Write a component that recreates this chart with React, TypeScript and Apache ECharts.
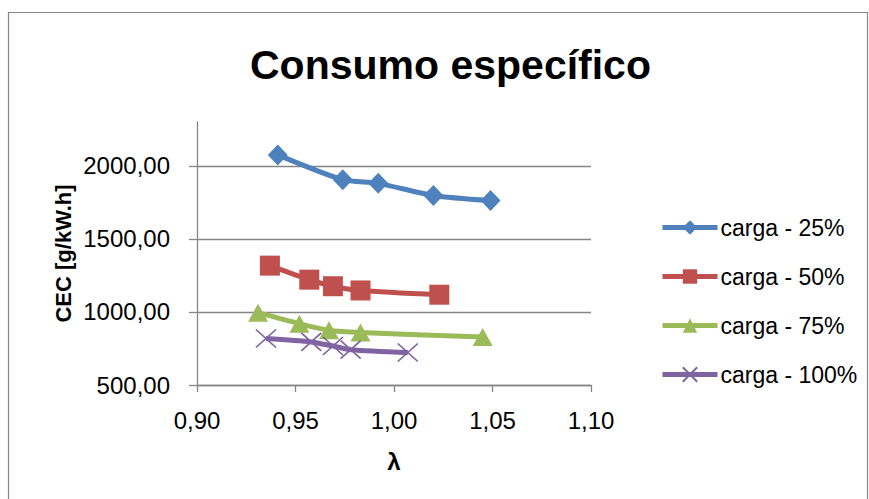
import React, { useEffect, useRef } from "react";
import * as echarts from "echarts";

const seriesNames = ["carga - 25%", "carga - 50%", "carga - 75%", "carga - 100%"];
const lambda25 = [0.941, 0.974, 0.992, 1.02, 1.049];
const cec25 = [2075, 1905, 1880, 1797, 1762];
const lambda50 = [0.937, 0.957, 0.969, 0.983, 1.023];
const cec50 = [1317, 1221, 1176, 1147, 1118];
const lambda75 = [0.931, 0.952, 0.967, 0.983, 1.045];
const cec75 = [995, 920, 875, 859, 829];
const lambda100 = [0.935, 0.958, 0.969, 0.978, 1.007];
const cec100 = [818, 795, 767, 742, 722];
const xTicks = [0.9, 0.95, 1.0, 1.05, 1.1];
const yTicks = [500, 1000, 1500, 2000];

const colors = ["#4F81BD", "#C0504D", "#9BBB59", "#8064A2"];
const symbols = ["diamond", "rect", "triangle", "path://M0,0L10,10M10,0L0,10"];
const symbolSizes = [[20, 21], [20, 20], [20, 18], [20, 18]];

const fmt = (v: number) => v.toFixed(2).replace(".", ",");

export default function App() {
  const ref = useRef<HTMLDivElement>(null);
  useEffect(() => {
    document.body.style.margin = "0";
    if (!ref.current) return;
    const chart = echarts.init(ref.current, null, { renderer: "svg" });
    const xs = [lambda25, lambda50, lambda75, lambda100];
    const ys = [cec25, cec50, cec75, cec100];
    const font = "Liberation Sans, Arial, sans-serif";
    chart.setOption({
      animation: false,
      backgroundColor: "#fff",
      graphic: [
        {
          type: "rect",
          left: 6,
          top: 10,
          shape: { width: 859, height: 500 },
          style: { fill: "none", stroke: "#868686", lineWidth: 1.2 },
          silent: true,
        },
      ],
      title: {
        text: "Consumo específico",
        left: 245,
        top: 39,
        textStyle: { fontFamily: font, fontWeight: "bold", fontSize: 41, color: "#000" },
      },
      grid: { left: 197, right: 278, top: 122, bottom: 114, containLabel: false },
      legend: {
        orient: "vertical",
        left: 655,
        top: 211,
        itemWidth: 55,
        itemHeight: 18,
        itemGap: 26,
        data: seriesNames,
        lineStyle: { width: 5 },
        textStyle: { fontFamily: font, fontSize: 23, color: "#000", padding: [0, 0, 0, -2] },
      },
      xAxis: {
        type: "value",
        min: 0.9,
        max: 1.1,
        interval: 0.05,
        name: "λ",
        nameLocation: "middle",
        nameGap: 64,
        nameMoveOverlap: false,
        nameTextStyle: { fontFamily: font, fontWeight: "bold", fontSize: 24, color: "#000" },
        axisLine: { show: true, lineStyle: { color: "#868686", width: 1.3 } },
        axisTick: { show: true, length: 7, lineStyle: { color: "#868686", width: 1.3 } },
        axisLabel: {
          fontFamily: font,
          fontSize: 24,
          color: "#000",
          margin: 23,
          customValues: xTicks,
          formatter: (v: number) => fmt(v),
        },
        splitLine: { show: false },
      },
      yAxis: {
        type: "value",
        min: 500,
        max: 2300,
        interval: 500,
        name: "CEC [g/kW.h]",
        nameLocation: "middle",
        nameGap: 123,
        nameMoveOverlap: false,
        nameRotate: 90,
        nameTextStyle: { fontFamily: font, fontWeight: "bold", fontSize: 22, color: "#000" },
        axisLine: { show: true, lineStyle: { color: "#868686", width: 1.3 } },
        axisTick: { show: true, length: 8, lineStyle: { color: "#868686", width: 1.3 }, customValues: yTicks },
        axisLabel: {
          fontFamily: font,
          fontSize: 24,
          color: "#000",
          margin: 27,
          customValues: yTicks,
          formatter: (v: number) => (v > 2200 ? "" : fmt(v)),
        },
        splitLine: {
          show: true,
          lineStyle: { color: ["#868686", "#868686", "#868686", "#868686", "rgba(0,0,0,0)"], width: 1.3 },
        },
      },
      series: seriesNames.map((name, i) => ({
        name,
        type: "line",
        smooth: 0.25,
        data: xs[i].map((x, j) => [x, ys[i][j]]),
        symbol: symbols[i],
        symbolSize: symbolSizes[i],
        showAllSymbol: true,
        lineStyle: { color: colors[i], width: 5 },
        itemStyle:
          i === 3
            ? { color: "rgba(0,0,0,0)", borderColor: colors[i], borderWidth: 1.6 }
            : { color: colors[i], borderColor: colors[i], borderWidth: 0 },
        color: colors[i],
        z: 2 + i,
      })),
    });
    return () => chart.dispose();
  }, []);
  return <div ref={ref} style={{ width: 869, height: 499 }} />;
}
